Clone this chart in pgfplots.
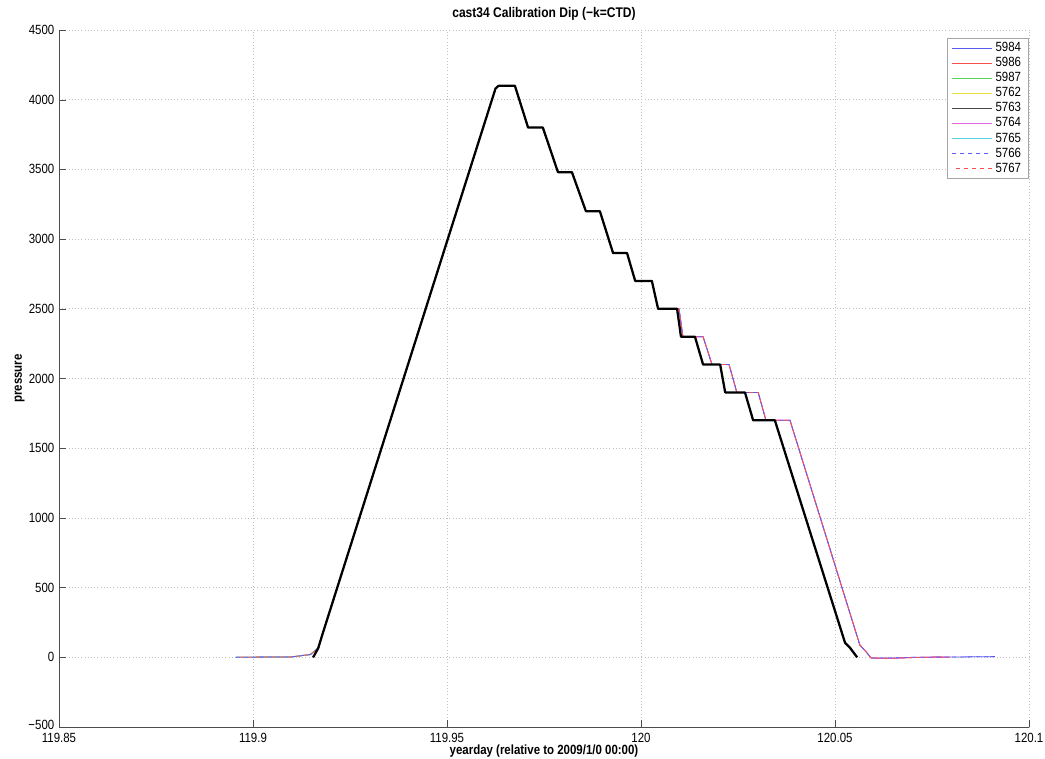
\documentclass[border=0pt]{standalone}
\usepackage{fontspec}
\setmainfont{Liberation Sans}[FakeStretch=0.86]
\usepackage{pgfplots}
\usepackage{pgfplotstable}
\pgfplotsset{compat=1.18}

\definecolor{cblue}{RGB}{90,90,245}
\definecolor{cred}{RGB}{245,80,80}
\definecolor{cgreen}{RGB}{90,210,90}
\definecolor{cyellow}{RGB}{235,225,60}
\definecolor{cmag}{RGB}{225,100,225}
\definecolor{ccyan}{RGB}{90,210,230}
\definecolor{cblk}{RGB}{70,70,70}

\pgfplotstableread{
x p
119.9155 0
119.9168 65
119.9180 174
119.9625 4080
119.9633 4100
119.9675 4100
119.9709 3800
119.9747 3800
119.9786 3480
119.9822 3480
119.9858 3200
119.9894 3200
119.9928 2900
119.9964 2900
119.9985 2700
120.0028 2700
120.0044 2500
120.0093 2500
120.0103 2300
120.0139 2300
120.0160 2100
120.0204 2100
120.0217 1900
120.0268 1900
120.0289 1700
120.0345 1700
120.0526 103
120.0539 67
120.0557 0
}\blackdata

\pgfplotstableread{
x p
119.8956 0
119.9050 2
119.9100 3
119.9148 20
119.9168 65
119.9180 174
119.9625 4080
119.9633 4100
119.9675 4100
119.9709 3800
119.9747 3800
119.9786 3480
119.9822 3480
119.9858 3200
119.9894 3200
119.9928 2900
119.9964 2900
119.9985 2700
120.0028 2700
120.0044 2500
120.0098 2500
120.0108 2300
120.0160 2300
120.0183 2100
120.0227 2100
120.0247 1900
120.0302 1900
120.0322 1700
120.0384 1700
120.0564 88
120.0580 40
120.0593 -5
120.0650 -5
120.0700 0
120.0800 2
120.0912 5
}\colfull

\pgfplotstableread{
x p
119.8956 0
119.9050 2
119.9100 3
119.9148 20
119.9168 65
119.9180 174
119.9625 4080
119.9633 4100
119.9675 4100
119.9709 3800
119.9747 3800
119.9786 3480
119.9822 3480
119.9858 3200
119.9894 3200
119.9928 2900
119.9964 2900
119.9985 2700
120.0028 2700
120.0044 2500
120.0098 2500
120.0108 2300
120.0160 2300
120.0183 2100
120.0227 2100
120.0247 1900
120.0302 1900
120.0322 1700
120.0384 1700
120.0564 88
120.0580 40
120.0593 -5
120.0640 -8
120.0700 -2
120.0760 2
120.0796 0
}\colshort

\pgfplotstableread{
x p
119.8956 0
119.9050 2
119.9100 3
119.9148 20
119.9168 65
119.9180 174
119.9625 4080
119.9633 4100
}\colstart

\begin{document}
\begin{tikzpicture}[font=\fontsize{10}{12}\selectfont]
\useasboundingbox (0,0) rectangle (783.75pt,568.5pt);
\begin{axis}[
  at={(44.25pt,23.25pt)}, anchor=south west,
  scale only axis, width=727.5pt, height=522.75pt,
  xmin=119.85, xmax=120.1, ymin=-500, ymax=4500,
  xtick={119.85,119.9,119.95,120,120.05,120.1},
  xticklabels={119.85,119.9,119.95,120,120.05,120.1},
  ytick={-500,0,500,1000,1500,2000,2500,3000,3500,4000,4500},
  yticklabels={\raisebox{3pt}{−500},0,500,1000,1500,2000,2500,3000,3500,4000,4500},
  xticklabel style={yshift=-1pt},
  axis x line*=bottom, axis y line*=left,
  axis line style={black!70},
  tick align=inside, major tick length=5pt,
  tick style={black!70},
  grid=major, grid style={dotted, gray!50, line width=0.6pt},
  title={\fontsize{10.5}{12}\selectfont\bfseries cast34 Calibration Dip (−k=CTD)},
  title style={yshift=-2pt},
  xlabel={\bfseries yearday (relative to 2009/1/0 00:00)},
  ylabel={\bfseries pressure},
  xlabel style={yshift=5pt},
  ylabel style={yshift=-4pt},
  legend style={at={(0.999,0.988)}, anchor=north east, draw=gray!70,
    font=\fontsize{10}{11}\selectfont, cells={anchor=west},
    row sep=-1.225pt, inner xsep=3pt, inner ysep=1pt},
  legend image code/.code={\draw[#1, line width=1pt] (0cm,0cm) -- (1.05cm,0cm);},
]
\addplot[color=cblue, line width=0.6pt] table[x=x,y=p] {\colfull};
\addlegendentry{5984}
\addplot[color=cred, line width=0.6pt] table[x=x,y=p] {\colshort};
\addlegendentry{5986}
\addplot[color=cgreen, line width=0.6pt] table[x=x,y=p] {\colstart};
\addlegendentry{5987}
\addplot[color=cyellow, line width=0.6pt] table[x=x,y=p] {\colstart};
\addlegendentry{5762}
\addplot[color=cblk, line width=0.6pt] table[x=x,y=p] {\blackdata};
\addlegendentry{5763}
\addplot[color=cmag, line width=0.6pt] table[x=x,y=p] {\colshort};
\addlegendentry{5764}
\addplot[color=ccyan, line width=0.6pt] table[x=x,y=p] {\colstart};
\addlegendentry{5765}
\addplot[color=cblue, dash pattern=on 3pt off 3pt, line width=0.6pt] table[x=x,y=p] {\colfull};
\addlegendentry{5766}
\addplot[color=cred, dash pattern=on 3pt off 3pt, dash phase=3pt, line width=0.6pt] table[x=x,y=p] {\colshort};
\addlegendentry{5767}
\addplot[forget plot, color=black, line width=1.7pt, line join=round] table[x=x,y=p] {\blackdata};
\end{axis}
\end{tikzpicture}
\end{document}
